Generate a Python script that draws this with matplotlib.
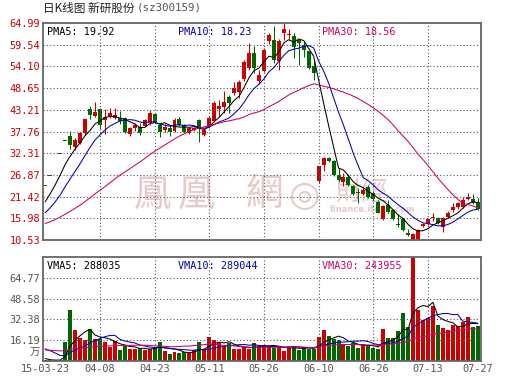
import matplotlib
matplotlib.use("Agg")
import matplotlib.pyplot as plt
import numpy as np
import pandas as pd

# candles, one per trading day from 15-03-23 to 07-27
opens = [24.16, 26.58, 29.24, 32.16, 35.38, 36.6, 33.9, 34.9, 37.3, 43.3,
         41.6, 43.3, 40.6, 41.6, 41.1, 41.2, 41.2, 37.05, 38.6, 38.8,
         39.2, 39.8, 42.2, 39.4, 38.1, 38.6, 37.96, 40.8, 39.4, 37.5,
         38.2, 40.6, 36.9, 38.96, 40.5, 43.3, 43.98, 46.5, 47.3, 47.7,
         51.0, 53.6, 57.4, 50.5, 53.0, 60.4, 60.8, 55.4, 62.5, 61.9,
         61.8, 60.6, 59.5, 57.9, 54.1, 25.3, 29.4, 31.1, 30.4, 26.9,
         25.1, 26.3, 24.2, 22.5, 22.1, 23.8, 22.4, 20.1, 15.7, 19.3,
         18.1, 14.6, 15.7, 12.3, 10.6, 10.6, 14.0, 14.5, 16.0, 15.98,
         13.9, 16.4, 18.0, 18.7, 18.9, 20.7, 20.9, 20.1]
highs = [24.16, 26.58, 29.24, 32.16, 35.38, 38.0, 36.2, 37.6, 41.0, 44.2,
         45.2, 43.6, 43.3, 43.6, 43.6, 42.8, 41.5, 39.0, 39.8, 39.8,
         40.9, 43.2, 42.5, 39.6, 39.6, 39.3, 41.1, 41.3, 39.6, 39.0,
         39.0, 40.9, 38.4, 41.6, 45.3, 45.7, 47.9, 46.8, 50.3, 50.6,
         55.6, 59.9, 59.3, 53.3, 58.6, 62.5, 64.3, 61.0, 64.99, 63.4,
         62.5, 61.0, 60.2, 58.3, 55.5, 29.1, 31.3, 31.4, 30.6, 28.5,
         27.3, 27.1, 24.4, 23.5, 23.6, 24.3, 22.8, 20.5, 19.4, 20.6,
         18.3, 17.1, 16.0, 13.2, 12.3, 13.3, 14.8, 16.0, 17.3, 16.2,
         16.4, 17.8, 19.9, 20.0, 21.2, 22.3, 22.2, 21.0]
lows = [24.16, 26.58, 29.24, 32.16, 35.38, 33.4, 33.2, 34.5, 37.0, 41.0,
        41.3, 38.5, 37.1, 41.2, 40.8, 39.6, 37.4, 36.6, 38.0, 37.0,
        38.8, 39.5, 39.8, 36.3, 37.6, 36.7, 37.7, 39.2, 37.4, 37.2,
        37.9, 35.2, 36.6, 38.7, 40.3, 41.5, 42.3, 42.5, 47.0, 46.2,
        50.5, 53.3, 52.5, 49.8, 52.6, 59.8, 55.0, 53.3, 60.6, 61.0,
        56.2, 54.5, 56.4, 53.4, 50.8, 24.8, 27.9, 30.0, 26.6, 25.2,
        24.0, 24.2, 21.9, 19.9, 21.8, 21.1, 20.3, 17.2, 15.5, 17.4,
        15.5, 13.9, 12.8, 11.5, 10.53, 10.53, 13.7, 14.2, 15.3, 14.5,
        12.6, 16.1, 17.6, 18.4, 18.6, 20.5, 19.6, 18.0]
closes = [24.16, 26.58, 29.24, 32.16, 35.38, 34.4, 35.6, 37.3, 40.8, 41.9,
          42.7, 39.4, 41.5, 42.3, 41.9, 40.5, 37.7, 38.7, 39.4, 37.5,
          40.6, 42.3, 40.2, 37.7, 38.96, 37.7, 40.6, 39.4, 37.7, 38.7,
          38.6, 38.3, 38.1, 41.1, 44.99, 44.2, 45.2, 44.8, 48.6, 50.3,
          55.3, 57.4, 53.6, 51.9, 58.3, 62.1, 55.8, 60.4, 63.5, 62.2,
          58.97, 59.9, 58.3, 53.7, 52.4, 29.0, 31.1, 30.3, 26.9, 25.7,
          26.3, 24.4, 22.1, 22.3, 23.2, 21.4, 20.8, 17.4, 19.1, 17.6,
          15.7, 14.2, 13.0, 11.7, 12.0, 13.1, 14.5, 15.7, 16.15, 14.7,
          16.0, 17.3, 18.9, 19.7, 20.6, 21.4, 19.8, 18.2]
# volume in 10k lots
volumes = [0.6, 0.5, 0.7, 1.0, 15.1, 39.9, 24.2, 18.2, 16.4, 25.0,
           17.2, 17.0, 14.9, 11.2, 15.6, 8.6, 12.0, 9.1, 9.6, 9.9,
           8.6, 9.1, 11.2, 15.1, 8.1, 5.5, 7.0, 6.5, 7.3, 6.0,
           8.6, 15.1, 9.1, 19.0, 16.4, 13.8, 12.0, 13.8, 9.4, 9.4,
           10.7, 9.1, 13.8, 12.5, 12.3, 11.5, 10.4, 10.9, 7.8, 10.9,
           11.7, 8.4, 10.4, 9.6, 9.6, 18.8, 24.5, 19.3, 17.5, 16.7,
           12.3, 11.5, 14.1, 10.4, 13.0, 11.5, 10.4, 9.6, 25.3, 18.2,
           18.2, 23.5, 37.0, 26.6, 80.96, 39.6, 31.8, 33.1, 42.8, 27.9,
           25.8, 24.5, 27.9, 27.1, 30.0, 34.4, 26.6, 27.4]

# days before the first candle, only used so the moving averages start right
prior_close = [12.9, 13.1, 13.4, 13.2, 13.0, 13.3, 13.5, 13.6, 13.4, 13.2,
               13.1, 13.3, 13.5, 13.4, 13.2, 13.3, 13.4, 13.5, 13.3, 13.4,
               14.2, 14.5, 14.7, 14.8, 15.0, 16.50, 18.15, 19.97, 21.96]
prior_vol = [7, 8, 9, 8, 7, 9, 10, 8, 7, 8,
             9, 8, 8, 9, 7, 8, 9, 8, 9, 8,
             15, 18, 20, 17, 14.6, 5.0, 2.0, 1.0, 0.8]

dates = ["15-03-23", "04-08", "04-23", "05-11", "05-26", "06-10", "06-26", "07-13", "07-27"]
date_pos = [0, 11, 22, 33, 44, 55, 66, 77, 87]
price_ticks = ["10.53", "15.98", "21.42", "26.87", "32.31", "37.76",
               "43.21", "48.65", "54.10", "59.54", "64.99"]
vol_ticks = ["16.19", "32.38", "48.58", "64.77"]
price_legend = ["PMA5: 19.92", "PMA10: 18.23", "PMA30: 18.56"]
vol_legend = ["VMA5: 288035", "VMA10: 289044", "VMA30: 243955"]
ma_days = [5, 10, 30]

W, H = 530, 391
red = "#cc0000"
green = "#006600"
ma_colors = ["black", "#0000b0", "#cc0066"]
mono = "DejaVu Sans Mono"
pink = "#e8caca"


def px(x, y):
    return x / W, 1 - y / H


def dotted(ax, vals, vertical):
    for v in vals:
        if vertical:
            ax.axvline(v, color="#555555", lw=0.8, ls=(0, (1, 2)), zorder=1.5)
        else:
            ax.axhline(v, color="#555555", lw=0.8, ls=(0, (1, 2)), zorder=1.5)


def frame(ax):
    for s in ax.spines.values():
        s.set_color("#666666")
        s.set_linewidth(1.3)
    ax.tick_params(length=0, pad=2)


fig = plt.figure(figsize=(W / 100, H / 100), dpi=100)
ax1 = fig.add_axes([43 / W, 1 - 240 / H, 438 / W, 217 / H])
ax2 = fig.add_axes([43 / W, 1 - 361 / H, 438 / W, 104 / H])

x = np.arange(len(closes))
o = np.array(opens)
c = np.array(closes)
cols = np.where(c > o, red, green)

# price panel
ax1.vlines(x, lows, highs, colors=cols, lw=0.75, zorder=1)
ax1.bar(x, np.maximum(np.abs(c - o), 0.22), 0.8, bottom=np.minimum(o, c),
        color=cols, lw=0, zorder=1)
allc = pd.Series(prior_close + closes)
for n, col in zip(ma_days, ma_colors):
    ma = allc.rolling(n).mean().values[len(prior_close):]
    ax1.plot(x, ma, color=col, lw=0.75, zorder=2)

pvals = [float(t) for t in price_ticks]
ax1.set_ylim(pvals[0], pvals[-1])
ax1.set_xlim(-0.46, 87.67)
ax1.set_yticks(pvals)
ax1.set_yticklabels(price_ticks, color=red, fontsize=7.4, family=mono)
ax1.set_xticks([])
dotted(ax1, pvals[1:-1], False)
dotted(ax1, date_pos[1:-1], True)
frame(ax1)

# volume panel
ax2.bar(x, volumes, 0.8, color=cols, lw=0, zorder=1)
allv = pd.Series(prior_vol + volumes)
for n, col in zip(ma_days, ma_colors):
    ma = allv.rolling(n).mean().values[len(prior_vol):]
    ax2.plot(x, ma, color=col, lw=0.75, zorder=2)

vvals = [float(t) for t in vol_ticks]
ax2.set_ylim(0, max(volumes))
ax2.set_xlim(-0.46, 87.67)
ax2.set_yticks(vvals + [vvals[0] / 2])
ax2.set_yticklabels(vol_ticks + ["万"], color="#555555", fontsize=7.4,
                    family=[mono, "Noto Sans CJK SC"])
ax2.set_xticks(date_pos)
ax2.set_xticklabels(dates, color="#555555", fontsize=7.4, family=mono)
ax2.tick_params(axis="x", pad=3)
dotted(ax2, vvals, False)
dotted(ax2, date_pos[1:-1], True)
frame(ax2)

# legends
for i, lx in enumerate([47, 178, 322]):
    fig.text(*px(lx, 32), price_legend[i], color=ma_colors[i], fontsize=7.3,
             family=mono, va="center")
    fig.text(*px(lx, 266), vol_legend[i], color=ma_colors[i], fontsize=7.3,
             family=mono, va="center")

# title
fig.text(*px(43, 8), "日K线图 新研股份", fontsize=8.4, family=["Noto Sans CJK SC", "DejaVu Sans"],
         color="#222222", va="center")
fig.text(*px(137, 8), "(sz300159)", fontsize=7.8, family=mono, color="#555555", va="center")

# faint site watermark behind the candles
for ch, cx in zip("鳳凰網", [153, 197, 264]):
    ax1.text(*px(cx, 195), ch, transform=fig.transFigure, fontsize=27, color=pink,
             family="Noto Sans CJK SC", ha="center", va="center", zorder=0.5)
ax1.text(*px(305, 196), "◎", transform=fig.transFigure, fontsize=26, color=pink,
         family="DejaVu Sans", ha="center", va="center", zorder=0.5)
ax1.text(*px(362, 192), "財經", transform=fig.transFigure, fontsize=19, color=pink,
         family="Noto Sans CJK SC", ha="center", va="center", zorder=0.5)
ax1.text(*px(330, 210), "finance.ifeng.com", transform=fig.transFigure, fontsize=6,
         color=pink, weight="bold", family="DejaVu Sans", va="center", zorder=0.5)

fig.savefig("out.png", dpi=100)
